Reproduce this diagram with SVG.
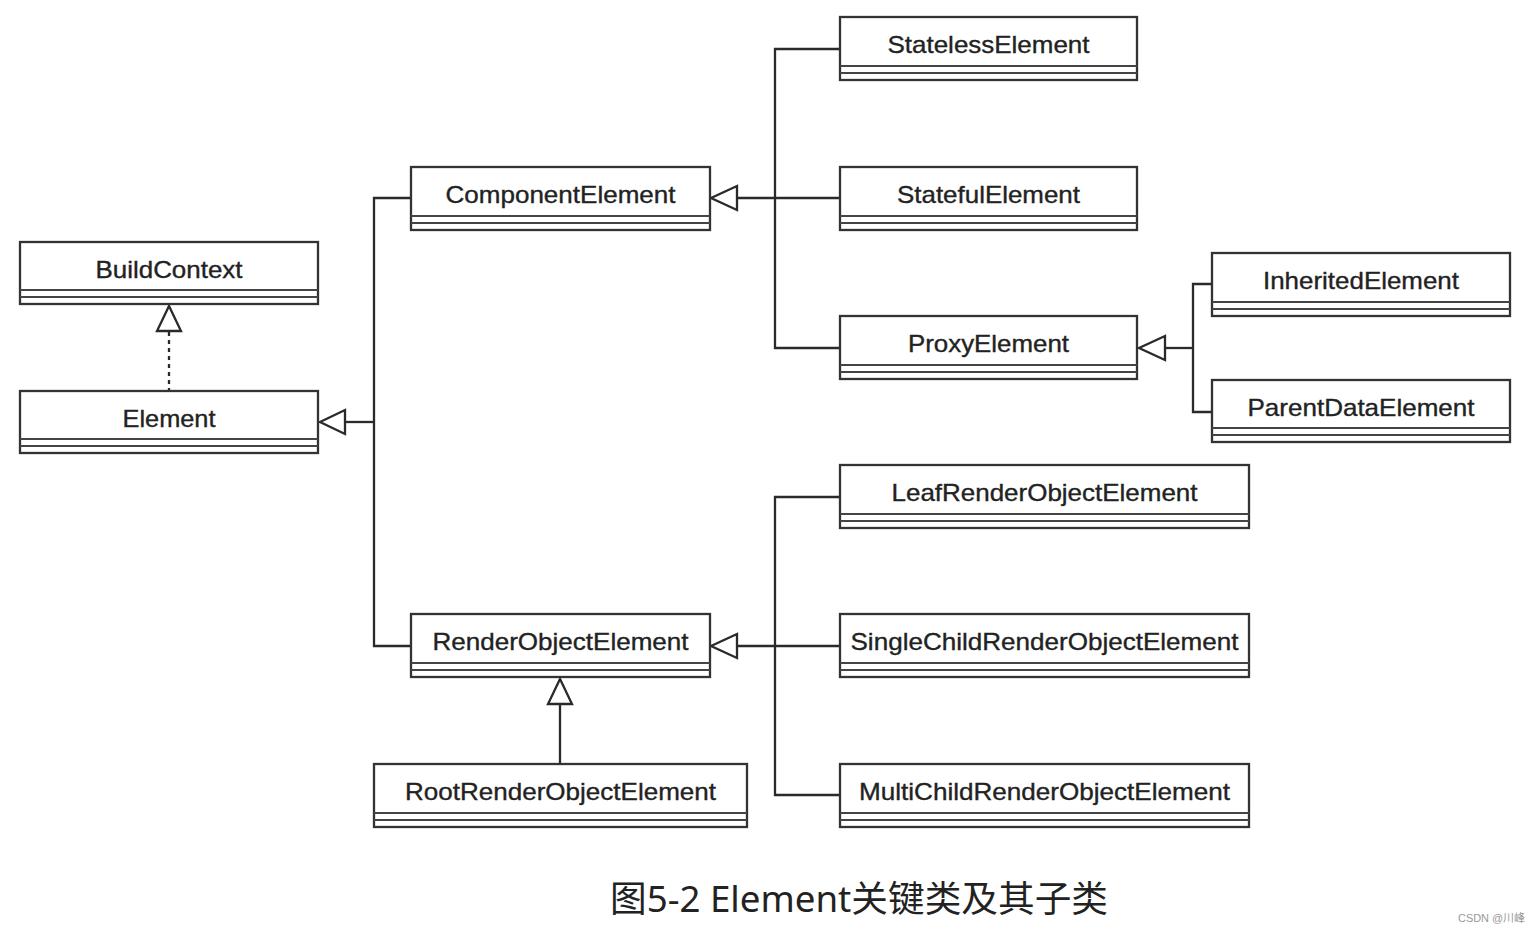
<svg xmlns="http://www.w3.org/2000/svg" width="1540" height="934" viewBox="0 0 1540 934">
<style>
.box{fill:#fff;stroke:#333;stroke-width:2.3}
.div{stroke:#444;stroke-width:2}
.lbl{font-family:"Liberation Sans",Arial,sans-serif;font-size:24px;fill:#222;stroke:#222;stroke-width:0.35;text-anchor:middle}
.ln{fill:none;stroke:#2a2a2a;stroke-width:2.3}
.tri{fill:#fff;stroke:#2a2a2a;stroke-width:2.3;stroke-linejoin:miter}
.cap{font-family:"Noto Sans","Noto Sans CJK SC",sans-serif;font-size:36px;fill:#222;text-anchor:middle}
.wm{font-family:"Liberation Sans","Noto Sans CJK SC",sans-serif;font-size:11px;fill:#999}
</style>
<rect width="1540" height="934" fill="#fff"/>
<g id="connectors">
  <line class="ln" x1="169" y1="332" x2="169" y2="391" stroke-dasharray="4,4"/>
  <polygon class="tri" points="169,306 157,331 181,331"/>
  <polyline class="ln" points="411,198 374,198 374,646 411,646"/>
  <line class="ln" x1="345" y1="422" x2="374" y2="422"/>
  <polygon class="tri" points="320,422 345,410 345,434"/>
  <polyline class="ln" points="840,49 775,49 775,348 840,348"/>
  <line class="ln" x1="737" y1="198" x2="840" y2="198"/>
  <polygon class="tri" points="711,198 737,186 737,210"/>
  <polyline class="ln" points="1212,284 1193,284 1193,412 1212,412"/>
  <line class="ln" x1="1165" y1="348" x2="1193" y2="348"/>
  <polygon class="tri" points="1139,348 1165,336 1165,360"/>
  <polyline class="ln" points="840,497 775,497 775,795 840,795"/>
  <line class="ln" x1="737" y1="646" x2="840" y2="646"/>
  <polygon class="tri" points="711,646 737,634 737,658"/>
  <line class="ln" x1="560" y1="704" x2="560" y2="764"/>
  <polygon class="tri" points="560,679 548,704 572,704"/>
</g>
<g id="StatelessElement">
  <rect class="box" x="840" y="17" width="297" height="63"/>
  <line class="div" x1="840" y1="66" x2="1137" y2="66"/><line class="div" x1="840" y1="73" x2="1137" y2="73"/>
  <text class="lbl" x="988.5" y="53" textLength="202" lengthAdjust="spacingAndGlyphs">StatelessElement</text>
</g>
<g id="ComponentElement">
  <rect class="box" x="411" y="167" width="299" height="63"/>
  <line class="div" x1="411" y1="216" x2="710" y2="216"/><line class="div" x1="411" y1="223" x2="710" y2="223"/>
  <text class="lbl" x="560.5" y="203" textLength="230" lengthAdjust="spacingAndGlyphs">ComponentElement</text>
</g>
<g id="StatefulElement">
  <rect class="box" x="840" y="167" width="297" height="63"/>
  <line class="div" x1="840" y1="216" x2="1137" y2="216"/><line class="div" x1="840" y1="223" x2="1137" y2="223"/>
  <text class="lbl" x="988.5" y="203" textLength="183" lengthAdjust="spacingAndGlyphs">StatefulElement</text>
</g>
<g id="BuildContext">
  <rect class="box" x="20" y="242" width="298" height="62"/>
  <line class="div" x1="20" y1="290" x2="318" y2="290"/><line class="div" x1="20" y1="297" x2="318" y2="297"/>
  <text class="lbl" x="169" y="278" textLength="147" lengthAdjust="spacingAndGlyphs">BuildContext</text>
</g>
<g id="InheritedElement">
  <rect class="box" x="1212" y="253" width="298" height="63"/>
  <line class="div" x1="1212" y1="302" x2="1510" y2="302"/><line class="div" x1="1212" y1="309" x2="1510" y2="309"/>
  <text class="lbl" x="1361" y="289" textLength="196" lengthAdjust="spacingAndGlyphs">InheritedElement</text>
</g>
<g id="ProxyElement">
  <rect class="box" x="840" y="316" width="297" height="63"/>
  <line class="div" x1="840" y1="365" x2="1137" y2="365"/><line class="div" x1="840" y1="372" x2="1137" y2="372"/>
  <text class="lbl" x="988.5" y="352" textLength="161" lengthAdjust="spacingAndGlyphs">ProxyElement</text>
</g>
<g id="ParentDataElement">
  <rect class="box" x="1212" y="380" width="298" height="62"/>
  <line class="div" x1="1212" y1="428" x2="1510" y2="428"/><line class="div" x1="1212" y1="435" x2="1510" y2="435"/>
  <text class="lbl" x="1361" y="416" textLength="227" lengthAdjust="spacingAndGlyphs">ParentDataElement</text>
</g>
<g id="Element">
  <rect class="box" x="20" y="391" width="298" height="62"/>
  <line class="div" x1="20" y1="439" x2="318" y2="439"/><line class="div" x1="20" y1="446" x2="318" y2="446"/>
  <text class="lbl" x="169" y="427" textLength="93" lengthAdjust="spacingAndGlyphs">Element</text>
</g>
<g id="LeafRenderObjectElement">
  <rect class="box" x="840" y="465" width="409" height="63"/>
  <line class="div" x1="840" y1="514" x2="1249" y2="514"/><line class="div" x1="840" y1="521" x2="1249" y2="521"/>
  <text class="lbl" x="1044.5" y="501" textLength="306" lengthAdjust="spacingAndGlyphs">LeafRenderObjectElement</text>
</g>
<g id="RenderObjectElement">
  <rect class="box" x="411" y="614" width="299" height="63"/>
  <line class="div" x1="411" y1="663" x2="710" y2="663"/><line class="div" x1="411" y1="670" x2="710" y2="670"/>
  <text class="lbl" x="560.5" y="650" textLength="256" lengthAdjust="spacingAndGlyphs">RenderObjectElement</text>
</g>
<g id="SingleChildRenderObjectElement">
  <rect class="box" x="840" y="614" width="409" height="63"/>
  <line class="div" x1="840" y1="663" x2="1249" y2="663"/><line class="div" x1="840" y1="670" x2="1249" y2="670"/>
  <text class="lbl" x="1044.5" y="650" textLength="388" lengthAdjust="spacingAndGlyphs">SingleChildRenderObjectElement</text>
</g>
<g id="RootRenderObjectElement">
  <rect class="box" x="374" y="764" width="373" height="63"/>
  <line class="div" x1="374" y1="813" x2="747" y2="813"/><line class="div" x1="374" y1="820" x2="747" y2="820"/>
  <text class="lbl" x="560.5" y="800" textLength="311" lengthAdjust="spacingAndGlyphs">RootRenderObjectElement</text>
</g>
<g id="MultiChildRenderObjectElement">
  <rect class="box" x="840" y="764" width="409" height="63"/>
  <line class="div" x1="840" y1="813" x2="1249" y2="813"/><line class="div" x1="840" y1="820" x2="1249" y2="820"/>
  <text class="lbl" x="1044.5" y="800" textLength="371" lengthAdjust="spacingAndGlyphs">MultiChildRenderObjectElement</text>
</g>
<g id="caption">
  <text class="cap" x="859" y="912" textLength="498" lengthAdjust="spacingAndGlyphs">图5-2 Element关键类及其子类</text>
  <text class="wm" x="1458" y="922" textLength="67" lengthAdjust="spacingAndGlyphs">CSDN @川峰</text>
</g>
</svg>
